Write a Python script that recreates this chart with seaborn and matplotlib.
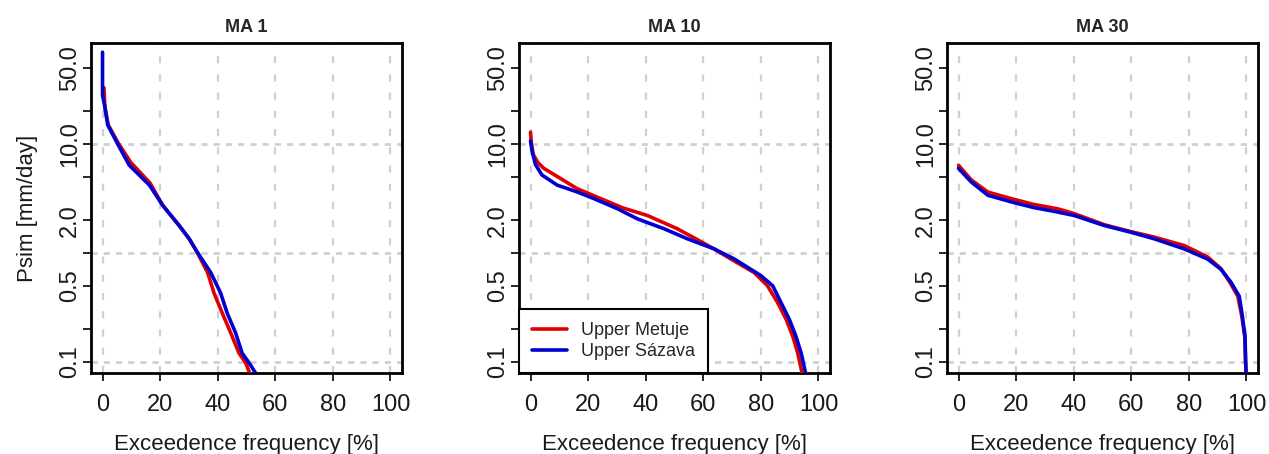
import numpy as np
import pandas as pd
import matplotlib
matplotlib.use("Agg")
import matplotlib.pyplot as plt
from matplotlib.lines import Line2D
from matplotlib.ticker import NullFormatter, NullLocator
import seaborn as sns

# ---------------- data ----------------
panels = ["MA 1", "MA 10", "MA 30"]
series = ["Upper Metuje", "Upper Sázava"]
colors = ["#E00000", "#0000D0"]

# MA 1
ma1_metuje_x = [0.5, 0.8, 2.0, 5.5, 9.8, 16.5, 20.9, 26.6, 30.1, 33.0, 36.5, 38.7, 41.6, 44.5, 47.4, 49.7, 51.4]
ma1_metuje_y = [33, 22, 15, 10.2, 6.8, 4.4, 2.74, 1.79, 1.35, 1.0, 0.66, 0.43, 0.28, 0.185, 0.12, 0.098, 0.075]
ma1_sazava_x = [0.0, 0.0, 0.7, 1.8, 5.3, 9.3, 16.3, 20.9, 26.6, 30.1, 33.0, 37.6, 41.0, 43.3, 46.2, 48.5, 50.9, 53.7]
ma1_sazava_y = [70, 28, 23, 15, 10, 6.4, 4.2, 2.74, 1.79, 1.35, 1.01, 0.66, 0.43, 0.28, 0.185, 0.12, 0.098, 0.075]

# MA 10
ma10_metuje_x = [0.0, 0.3, 1.0, 2.5, 4.6, 10.4, 16.2, 24.4, 32.0, 40.6, 51.0, 57.4, 63.5, 69.6, 77.7, 82.3, 85.8, 88.8, 91.1, 92.8, 94.5]
ma10_metuje_y = [12.9, 10.0, 8.0, 6.8, 6.0, 4.84, 3.9, 3.16, 2.6, 2.21, 1.67, 1.35, 1.1, 0.88, 0.66, 0.5, 0.35, 0.245, 0.171, 0.12, 0.075]
ma10_sazava_x = [0.0, 0.6, 1.7, 4.0, 9.3, 16.2, 22.0, 30.2, 37.1, 46.4, 54.5, 63.8, 70.8, 80.0, 84.1, 87.0, 89.9, 92.2, 94.0, 95.7]
ma10_sazava_y = [10.7, 8.5, 6.5, 5.2, 4.2, 3.64, 3.16, 2.55, 2.06, 1.67, 1.35, 1.09, 0.88, 0.62, 0.50, 0.35, 0.245, 0.171, 0.12, 0.075]

# MA 30
ma30_metuje_x = [0.0, 4.4, 10.2, 18.3, 26.0, 34.4, 40.2, 50.6, 59.9, 68.0, 78.4, 86.5, 91.1, 94.2, 97.0, 98.4, 99.4, 99.7, 99.9]
ma30_metuje_y = [6.4, 4.7, 3.63, 3.16, 2.8, 2.55, 2.3, 1.82, 1.57, 1.4, 1.17, 0.92, 0.72, 0.54, 0.40, 0.26, 0.17, 0.10, 0.075]
ma30_sazava_x = [0.0, 4.4, 10.2, 18.3, 26.0, 34.4, 40.2, 50.6, 59.9, 68.0, 78.4, 86.5, 91.1, 94.6, 97.5, 98.6, 99.5, 99.7, 99.9]
ma30_sazava_y = [6.0, 4.5, 3.39, 2.95, 2.62, 2.38, 2.21, 1.79, 1.55, 1.35, 1.09, 0.88, 0.71, 0.54, 0.40, 0.26, 0.17, 0.10, 0.075]

x_ticks = [0, 20, 40, 60, 80, 100]
y_ticks = [0.1, 0.2, 0.5, 1, 2, 5, 10, 20, 50]
y_ticklabels = ["0.1", "", "0.5", "", "2.0", "", "10.0", "", "50.0"]
y_grid = [0.1, 1, 10]

# ---------------- long table ----------------
raw = {
    ("MA 1", "Upper Metuje"): (ma1_metuje_x, ma1_metuje_y),
    ("MA 1", "Upper Sázava"): (ma1_sazava_x, ma1_sazava_y),
    ("MA 10", "Upper Metuje"): (ma10_metuje_x, ma10_metuje_y),
    ("MA 10", "Upper Sázava"): (ma10_sazava_x, ma10_sazava_y),
    ("MA 30", "Upper Metuje"): (ma30_metuje_x, ma30_metuje_y),
    ("MA 30", "Upper Sázava"): (ma30_sazava_x, ma30_sazava_y),
}
rows = []
for (p, s), (xs, ys) in raw.items():
    for i, (xv, yv) in enumerate(zip(xs, ys)):
        rows.append({"panel": p, "series": s, "i": i, "x": xv, "y": yv})
df = pd.DataFrame(rows)

# ---------------- style ----------------
sns.set_theme(style="white")
plt.rcParams["font.family"] = ["Liberation Sans", "DejaVu Sans"]

fig = plt.figure(figsize=(12.69, 4.54), dpi=100)
W, H = 1269, 454
lefts = [91, 519, 947]
ax_w = 311
ax_top, ax_bot = 43, 373
palette = dict(zip(series, colors))
vgrid_kw = dict(color="#D0D0D0", linestyle=(0, (3.2, 5.0)), linewidth=1.6, zorder=0)
hgrid_kw = dict(color="#D0D0D0", linestyle=(0, (2.2, 2.2)), linewidth=2.0, zorder=0)

for k, (p, left) in enumerate(zip(panels, lefts)):
    ax = fig.add_axes([left / W, 1 - ax_bot / H, ax_w / W, (ax_bot - ax_top) / H])
    sub = df[df["panel"] == p]
    sns.lineplot(data=sub, x="x", y="y", hue="series", hue_order=series,
                 palette=palette, sort=False, estimator=None, units="series",
                 linewidth=2.6, legend=False, ax=ax, zorder=3)
    ax.set_yscale("log")
    ax.set_xlim(-4, 104)
    ax.set_ylim(0.079, 85)
    ax.yaxis.remove_overlapping_locs = False
    ax.set_xticks(x_ticks)
    ax.set_xticklabels([str(v) for v in x_ticks])
    ax.set_yticks(y_ticks)
    ax.set_yticklabels(y_ticklabels)
    ax.set_yticks(y_grid, minor=True)
    ax.yaxis.set_minor_formatter(NullFormatter())
    ax.xaxis.set_minor_locator(NullLocator())
    for lab in ax.get_yticklabels():
        lab.set_rotation(90)
        lab.set_va("center")
    ax.tick_params(axis="both", which="major", direction="out", length=6,
                   width=1.2, color="black", labelsize=17, labelcolor="#1a1a1a",
                   bottom=True, left=True, top=False, right=False)
    ax.tick_params(axis="y", which="minor", length=0, left=False, labelleft=False)
    ax.tick_params(axis="x", pad=9)
    ax.tick_params(axis="y", pad=1)
    ax.grid(False)
    ax.xaxis.grid(True, which="major", **vgrid_kw)
    ax.yaxis.grid(True, which="minor", **hgrid_kw)
    ax.yaxis.grid(False, which="major")
    ax.set_axisbelow(True)
    for sp in ax.spines.values():
        sp.set_visible(True)
        sp.set_color("black")
        sp.set_linewidth(2.0)
    ax.set_title(p, fontsize=13, fontweight="bold", pad=8)
    ax.set_xlabel("Exceedence frequency [%]", fontsize=16, labelpad=13, color="#1a1a1a")
    if k == 0:
        ax.set_ylabel("Psim [mm/day]", fontsize=16, labelpad=15, color="#1a1a1a")
    else:
        ax.set_ylabel("")
    if k == 1:
        handles = [Line2D([], [], color=c, linewidth=2.6) for c in colors]
        leg = ax.legend(handles, series, loc="lower left", bbox_to_anchor=(0, 0),
                        borderaxespad=0, frameon=True, fancybox=False,
                        framealpha=1, edgecolor="black", fontsize=13,
                        handlelength=1.95, handletextpad=0.8, borderpad=0.7,
                        labelspacing=0.25)
        leg.get_frame().set_linewidth(1.5)
        leg.set_zorder(5)

fig.savefig("out.png", dpi=100, facecolor="white")
